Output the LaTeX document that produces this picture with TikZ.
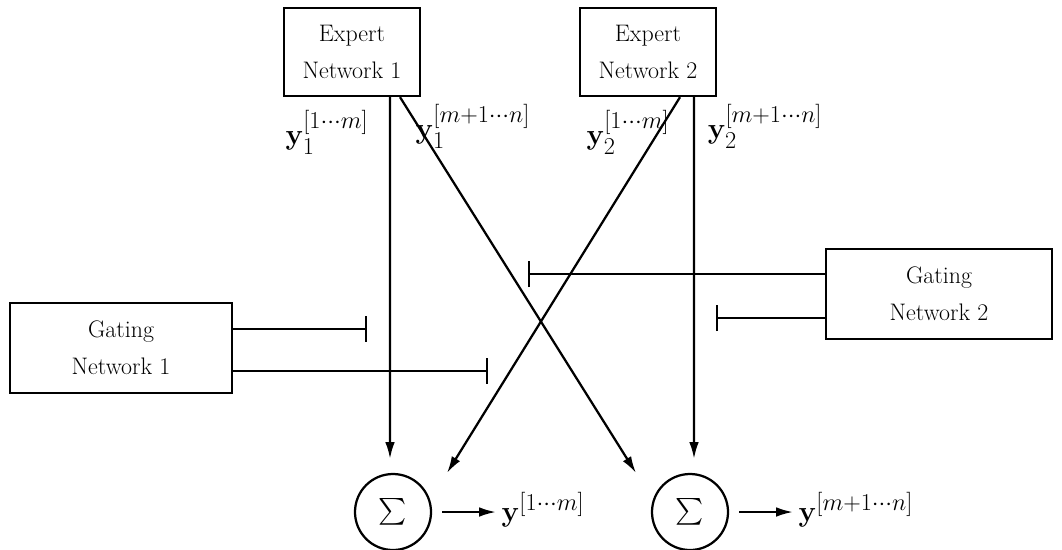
\documentclass[tikz,border=0pt]{standalone}
\usepackage{amsmath,amssymb}
\usepackage{tikz}
\usetikzlibrary{arrows.meta,positioning,calc}
\DeclareMathSizes{20}{20}{16}{12}

\begin{document}
\begin{tikzpicture}[
    x=0.025cm, y=-0.025cm,
    every node/.style={font=\fontsize{17}{26}\selectfont},
    box/.style={draw, line width=1.6pt, minimum width=3.4cm,
                minimum height=2.2cm, align=center},
    sumnode/.style={draw, circle, line width=1.6pt, minimum size=1.9cm, inner sep=0pt,
                    font=\fontsize{19}{24}\selectfont},
    lab/.style={font=\fontsize{20}{24}\selectfont, inner sep=1pt},
    arr/.style={-{Latex[length=0.42cm,width=0.24cm]}, line width=1.6pt},
    gate/.style={-{Bar[width=0.65cm]}, line width=1.6pt}
  ]
    \useasboundingbox (0,0) rectangle (1062,549);

    \node[box] (exp1) at (352,52) {Expert\\Network 1};
    \node[box] (exp2) at (648,52) {Expert\\Network 2};
    \node[box, minimum width=5.55cm, minimum height=2.25cm] (gate1) at (121,348) {Gating\\Network 1};
    \node[box, minimum width=5.65cm, minimum height=2.25cm] (gate2) at (939,294) {Gating\\Network 2};
    \node[sumnode] (sum1) at (393,512) {$\sum$};
    \node[sumnode] (sum2) at (690,512) {$\sum$};

    % expert outputs
    \node[lab] (lab1a) at (327,132) {$\mathbf{y}_1^{[1\cdots m]}$};
    \node[lab, anchor=west] (lab1b) at (414,126) {$\mathbf{y}_1^{[m+1\cdots n]}$};
    \node[lab] (lab2a) at (628,132) {$\mathbf{y}_2^{[1\cdots m]}$};
    \node[lab] (lab2b) at (765,126) {$\mathbf{y}_2^{[m+1\cdots n]}$};

    % combined outputs
    \node[lab, anchor=west] (out1) at (500,510) {$\mathbf{y}^{[1\cdots m]}$};
    \node[lab, anchor=west] (out2) at (797,510) {$\mathbf{y}^{[m+1\cdots n]}$};

    \coordinate (in1) at (447,473);
    \coordinate (in2) at (636,473);
    \coordinate (g1a) at (367,329);
    \coordinate (g1b) at (488,371);
    \coordinate (g2a) at (528,274);
    \coordinate (g2b) at (716,318);

    \draw[arr, shorten >=0.35cm] ([xshift=0.95cm]exp1.south) -- ([xshift=-0.075cm]sum1.north);
    \draw[arr] ([xshift=1.2cm]exp1.south) -- (in2);
    \draw[arr] ([xshift=0.8cm]exp2.south) -- (in1);
    \draw[arr, shorten >=0.35cm] ([xshift=1.15cm]exp2.south) -- ([xshift=0.1cm]sum2.north);

    \draw[gate] (gate1.east |- g1a) -- (g1a);
    \draw[gate] (gate1.east |- g1b) -- (g1b);
    \draw[gate] (gate2.west |- g2a) -- (g2a);
    \draw[gate] (gate2.west |- g2b) -- (g2b);

    \draw[arr, shorten >=0.1cm] ([xshift=0.25cm]sum1.east) -- (sum1.east -| out1.west);
    \draw[arr, shorten >=0.1cm] ([xshift=0.25cm]sum2.east) -- (sum2.east -| out2.west);
\end{tikzpicture}
\end{document}
